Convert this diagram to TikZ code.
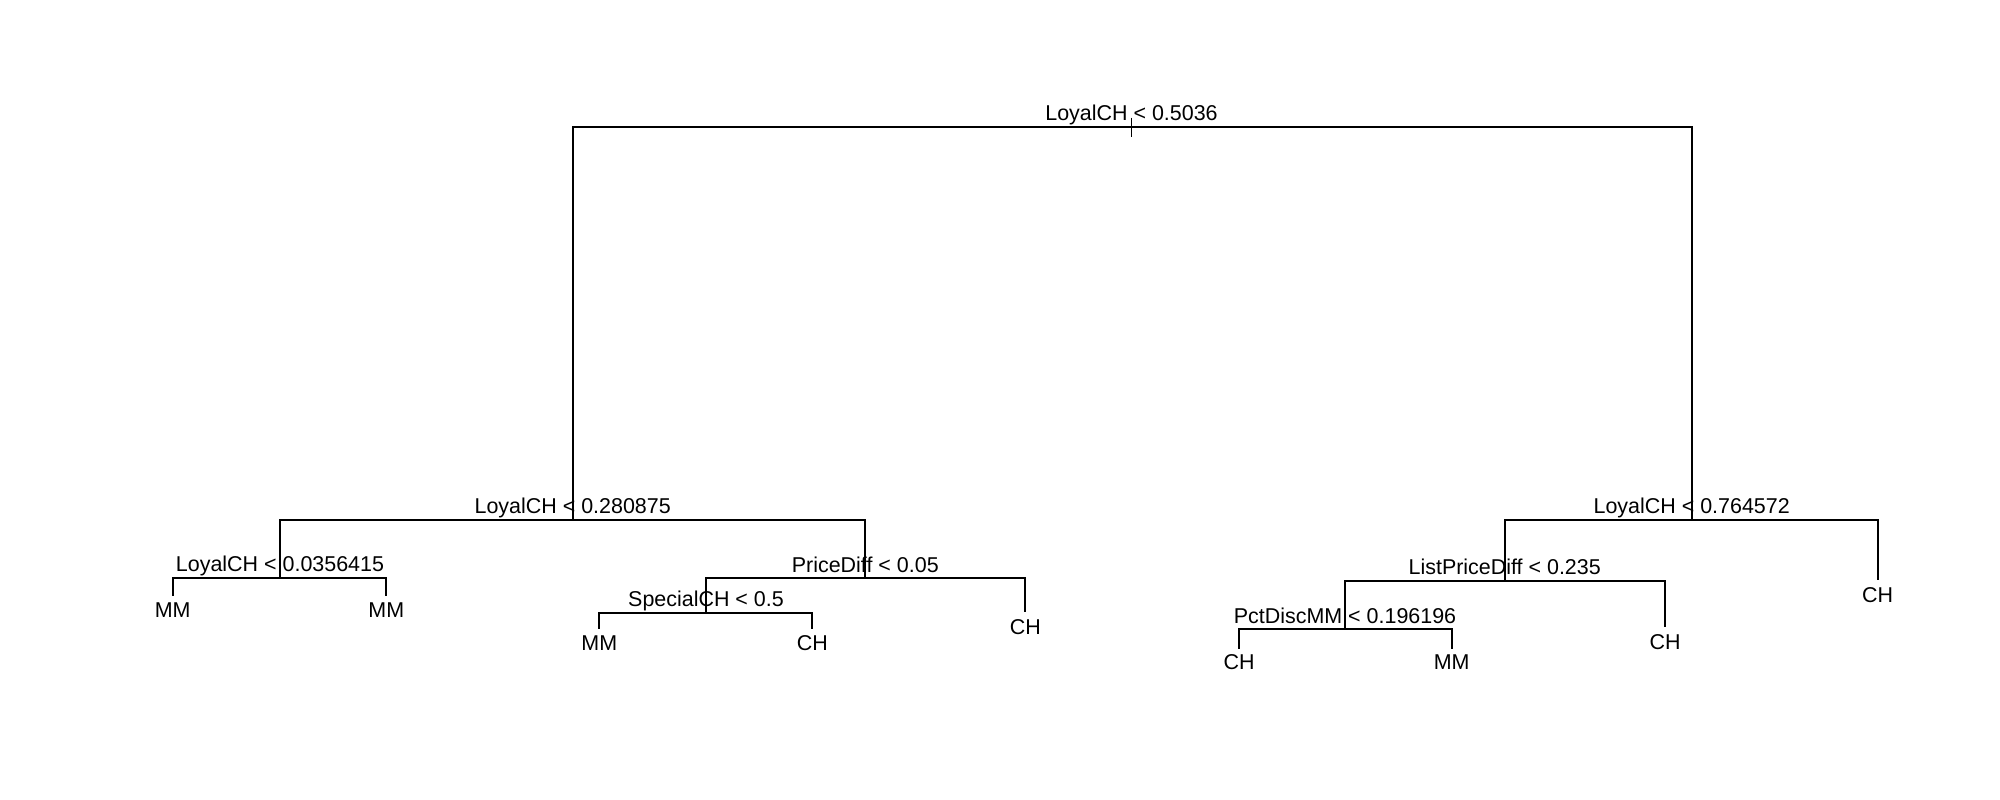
\documentclass[tikz,border=0pt]{standalone}
\usepackage{fontspec}
\setmainfont{Liberation Sans}
\begin{document}
\begin{tikzpicture}[x=0.01cm,y=-0.01cm,
  edge/.style={line width=0.55pt, line join=miter},
  splitlab/.style={anchor=base, inner sep=0pt, font=\fontsize{6.1}{7}\selectfont},
  leaflab/.style={anchor=base, inner sep=0pt, font=\fontsize{6.1}{7}\selectfont}]
  \useasboundingbox[fill=white] (0,0) rectangle (2000,800);

  % split points (x = node position, y = height of the split)
  \coordinate (root) at (1131.5,126.7);
  \coordinate (n2)   at (572.7,520);
  \coordinate (n3)   at (1691.7,520);
  \coordinate (n4)   at (280,577.7);
  \coordinate (n5)   at (865.3,577.7);
  \coordinate (n10)  at (706,612.7);
  \coordinate (n6)   at (1504.7,580.7);
  \coordinate (n12)  at (1345,629.3);
  % leaves (lower end of their stems)
  \coordinate (l8)   at (172.7,596);
  \coordinate (l9)   at (386.3,596);
  \coordinate (l20)  at (599.3,629.3);
  \coordinate (l21)  at (812.3,629.3);
  \coordinate (l11)  at (1025.3,611.7);
  \coordinate (l24)  at (1239,649.3);
  \coordinate (l25)  at (1451.7,649.3);
  \coordinate (l13)  at (1665,626.7);
  \coordinate (l7)   at (1877.7,580);

  % branches
  \draw[edge] ([yshift=0.09cm]root) -- ([yshift=-0.1cm]root);
  \draw[edge] (root) -| (n2);
  \draw[edge] (root) -| (n3);
  \draw[edge] (n2) -| (n4);
  \draw[edge] (n2) -| (n5);
  \draw[edge] (n4) -| (l8);
  \draw[edge] (n4) -| (l9);
  \draw[edge] (n5) -| (n10);
  \draw[edge] (n5) -| (l11);
  \draw[edge] (n10) -| (l20);
  \draw[edge] (n10) -| (l21);
  \draw[edge] (n3) -| (n6);
  \draw[edge] (n3) -| (l7);
  \draw[edge] (n6) -| (n12);
  \draw[edge] (n6) -| (l13);
  \draw[edge] (n12) -| (l24);
  \draw[edge] (n12) -| (l25);

  % split labels
  \node[splitlab] (troot) at ([yshift=0.065cm]root) {LoyalCH < 0.5036};
  \node[splitlab] (tn2)   at ([yshift=0.068cm]n2)    {LoyalCH < 0.280875};
  \node[splitlab] (tn3)   at ([yshift=0.068cm]n3)    {LoyalCH < 0.764572};
  \node[splitlab] (tn4)   at ([yshift=0.065cm]n4)   {LoyalCH < 0.0356415};
  \node[splitlab] (tn5)   at ([yshift=0.055cm]n5)   {PriceDiff < 0.05};
  \node[splitlab] (tn10)  at ([yshift=0.065cm]n10)  {SpecialCH < 0.5};
  \node[splitlab] (tn6)   at ([yshift=0.06cm]n6)   {ListPriceDiff < 0.235};
  \node[splitlab] (tn12)  at ([yshift=0.06cm]n12)  {PctDiscMM < 0.196196};

  % leaf labels
  \node[leaflab] (tl8)  at ([yshift=-0.21cm]l8)  {MM};
  \node[leaflab] (tl9)  at ([yshift=-0.21cm]l9)  {MM};
  \node[leaflab] (tl20) at ([yshift=-0.215cm]l20) {MM};
  \node[leaflab] (tl21) at ([yshift=-0.215cm]l21) {CH};
  \node[leaflab] (tl11) at ([yshift=-0.225cm]l11) {CH};
  \node[leaflab] (tl24) at ([yshift=-0.2cm]l24) {CH};
  \node[leaflab] (tl25) at ([yshift=-0.2cm]l25) {MM};
  \node[leaflab] (tl13) at ([yshift=-0.23cm]l13) {CH};
  \node[leaflab] (tl7)  at ([yshift=-0.22cm]l7)  {CH};
\end{tikzpicture}
\end{document}
